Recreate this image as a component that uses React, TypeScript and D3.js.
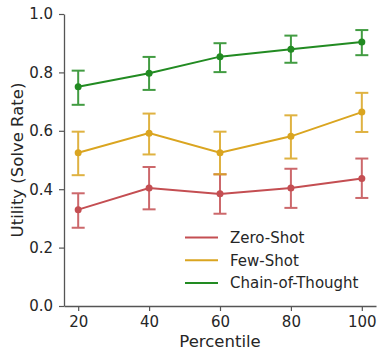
import { useEffect, useRef } from 'react'
import * as d3 from 'd3'

const WIDTH = 377
const HEIGHT = 351
const MARGIN = { top: 14, right: 1, bottom: 45, left: 64 }
const FONT = '"DejaVu Sans", sans-serif'

const percentiles = [20, 40, 60, 80, 100]

const zeroShot = [0.33, 0.404, 0.384, 0.404, 0.437]
const zeroShotLow = [0.268, 0.331, 0.316, 0.336, 0.37]
const zeroShotHigh = [0.386, 0.476, 0.451, 0.47, 0.505]

const fewShot = [0.525, 0.592, 0.525, 0.581, 0.664]
const fewShotLow = [0.448, 0.519, 0.451, 0.505, 0.596]
const fewShotHigh = [0.597, 0.659, 0.597, 0.653, 0.73]

const chainOfThought = [0.751, 0.797, 0.854, 0.879, 0.904]
const chainOfThoughtLow = [0.689, 0.74, 0.801, 0.833, 0.859]
const chainOfThoughtHigh = [0.806, 0.853, 0.9, 0.926, 0.945]

const yTicks = [0, 0.2, 0.4, 0.6, 0.8, 1.0]

const SERIES = [
  { label: 'Zero-Shot', color: '#c44e52', values: zeroShot, low: zeroShotLow, high: zeroShotHigh },
  { label: 'Few-Shot', color: '#daa520', values: fewShot, low: fewShotLow, high: fewShotHigh },
  { label: 'Chain-of-Thought', color: '#228b22', values: chainOfThought, low: chainOfThoughtLow, high: chainOfThoughtHigh },
]

export default function App() {
  const svgRef = useRef<SVGSVGElement>(null)

  useEffect(() => {
    const svgEl = svgRef.current
    if (!svgEl) return
    const svg = d3.select(svgEl)
    svg.selectAll('*').remove()

    const innerWidth = WIDTH - MARGIN.left - MARGIN.right
    const innerHeight = HEIGHT - MARGIN.top - MARGIN.bottom
    const g = svg.append('g').attr('transform', `translate(${MARGIN.left},${MARGIN.top})`)

    // ── Scales ──────────────────────────────────────────────────────────────
    const x = d3.scaleLinear([16, 104], [0, innerWidth])
    const y = d3.scaleLinear([0, 1], [innerHeight, 0])

    // ── Axes ────────────────────────────────────────────────────────────────
    g.append('g')
      .attr('transform', `translate(0,${innerHeight})`)
      .call(d3.axisBottom(x).tickValues(percentiles).tickSize(5).tickPadding(5).tickSizeOuter(0))
      .call(ag => ag.select('.domain').attr('stroke', '#555').attr('stroke-width', 1.3))
      .call(ag => ag.selectAll('.tick line').attr('stroke', '#555').attr('stroke-width', 1.2))
      .call(ag => ag.selectAll('text')
        .attr('fill', '#262626').attr('font-size', 15).attr('font-family', FONT))

    g.append('g')
      .call(d3.axisLeft(y).tickValues(yTicks).tickFormat(d3.format('.1f')).tickSize(5).tickPadding(6).tickSizeOuter(0))
      .call(ag => ag.select('.domain').attr('stroke', '#555').attr('stroke-width', 1.3))
      .call(ag => ag.selectAll('.tick line').attr('stroke', '#555').attr('stroke-width', 1.2))
      .call(ag => ag.selectAll('text')
        .attr('fill', '#262626').attr('font-size', 15).attr('font-family', FONT))

    g.append('text')
      .attr('x', innerWidth / 2).attr('y', innerHeight + 41)
      .attr('text-anchor', 'middle').attr('fill', '#262626')
      .attr('font-size', 16.5).attr('font-family', FONT)
      .text('Percentile')

    g.append('text')
      .attr('transform', 'rotate(-90)')
      .attr('x', -146).attr('y', -41)
      .attr('text-anchor', 'middle').attr('fill', '#262626')
      .attr('font-size', 16.5).attr('font-family', FONT)
      .text('Utility (Solve Rate)')

    // ── Series ──────────────────────────────────────────────────────────────
    const line = d3.line<number>()
      .x((_, i) => x(percentiles[i]))
      .y(d => y(d))

    SERIES.forEach(s => {
      const eg = g.append('g').attr('stroke', s.color).attr('stroke-width', 2).attr('opacity', 0.85)
      percentiles.forEach((p, i) => {
        const cx = x(p)
        eg.append('line')
          .attr('x1', cx).attr('x2', cx)
          .attr('y1', y(s.low[i])).attr('y2', y(s.high[i]))
        ;[s.low[i], s.high[i]].forEach(v => {
          eg.append('line')
            .attr('x1', cx - 6.5).attr('x2', cx + 6.5)
            .attr('y1', y(v)).attr('y2', y(v))
        })
      })

      g.append('path')
        .attr('d', line(s.values) ?? '')
        .attr('fill', 'none').attr('stroke', s.color).attr('stroke-width', 2)

      g.append('g').selectAll('circle')
        .data(s.values)
        .join('circle')
        .attr('cx', (_, i) => x(percentiles[i]))
        .attr('cy', d => y(d))
        .attr('r', 3.5)
        .attr('fill', s.color)
    })

    // ── Legend ──────────────────────────────────────────────────────────────
    const lg = svg.append('g').attr('transform', 'translate(185,237.5)')
    SERIES.forEach((s, i) => {
      const ly = i * 22.7
      lg.append('line')
        .attr('x1', 0).attr('x2', 33)
        .attr('y1', ly).attr('y2', ly)
        .attr('stroke', s.color).attr('stroke-width', 2)
      lg.append('text')
        .attr('x', 45).attr('y', ly + 5.3)
        .attr('fill', '#262626').attr('font-size', 15).attr('font-family', FONT)
        .text(s.label)
    })
  }, [])

  return (
    <svg
      ref={svgRef}
      width={WIDTH}
      height={HEIGHT}
      style={{ position: 'absolute', left: 0, top: 0, background: '#fff' }}
    />
  )
}
